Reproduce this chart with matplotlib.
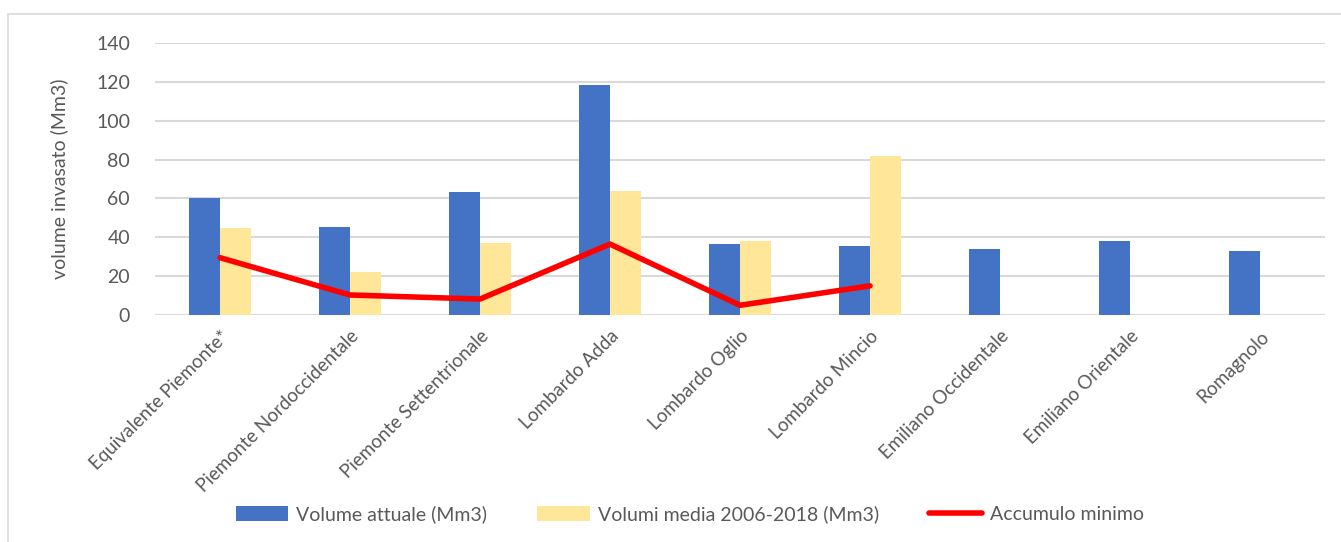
import numpy as np
import matplotlib.pyplot as plt
from matplotlib.patches import Rectangle

categories = ['Equivalente Piemonte*', 'Piemonte Nordoccidentale', 'Piemonte Settentrionale',
              'Lombardo Adda', 'Lombardo Oglio', 'Lombardo Mincio',
              'Emiliano Occidentale', 'Emiliano Orientale', 'Romagnolo']
volume_attuale = [60, 45.5, 63.3, 118.4, 36.5, 35.5, 34, 38.2, 33]
volumi_media = [45, 22.2, 37, 64, 38, 82, 0, 0, 0]
accumulo_minimo = [29.5, 10.3, 8.2, 36.5, 5, 15]

plt.rcParams['font.family'] = ['Lato', 'DejaVu Sans']

fig = plt.figure(figsize=(13.41, 5.42), dpi=100)
ax = fig.add_axes([155 / 1341, 1 - 315 / 542, 1170 / 1341, 272 / 542])

# light frame around the chart
fig.patches.append(Rectangle((8 / 1341, -0.1), 1.2, 1 - 14 / 542 + 0.1,
                             transform=fig.transFigure, fill=False,
                             edgecolor='#d9d9d9', linewidth=1.2))

x = np.arange(len(categories))
w = 0.24
b1 = ax.bar(x - w / 2, volume_attuale, w, color='#4472c4', label='Volume attuale (Mm3)', zorder=3)
b2 = ax.bar(x + w / 2, volumi_media, w, color='#ffe699', label='Volumi media 2006-2018 (Mm3)', zorder=3)
l1, = ax.plot(x[:len(accumulo_minimo)], accumulo_minimo, color='#ff0000', linewidth=4,
              solid_capstyle='round', label='Accumulo minimo', zorder=4)

ax.set_xlim(-0.5, len(categories) - 0.5)
ax.set_ylim(0, 140)
ax.set_yticks(range(0, 141, 20))
ax.grid(axis='y', color='#d9d9d9', linewidth=1.5, zorder=0)
for s in ax.spines.values():
    s.set_visible(False)
ax.tick_params(length=0, labelsize=14, colors='#595959')
ax.tick_params(axis='y', pad=18)
ax.set_xticks(x)
ax.set_xticklabels(categories, rotation=45, ha='right', rotation_mode='anchor', fontsize=13.5)
ax.tick_params(axis='x', pad=9)
ax.set_ylabel('volume invasato (Mm3)', fontsize=14, color='#595959', labelpad=20)

ax.legend(handles=[b1, b2, l1], loc='upper center', bbox_to_anchor=(0.457, -0.635), ncol=3,
          frameon=False, fontsize=14, labelcolor='#595959', handlelength=2.7,
          handleheight=0.8, columnspacing=2.6, handletextpad=0.4)

fig.savefig('out.png', dpi=100)
